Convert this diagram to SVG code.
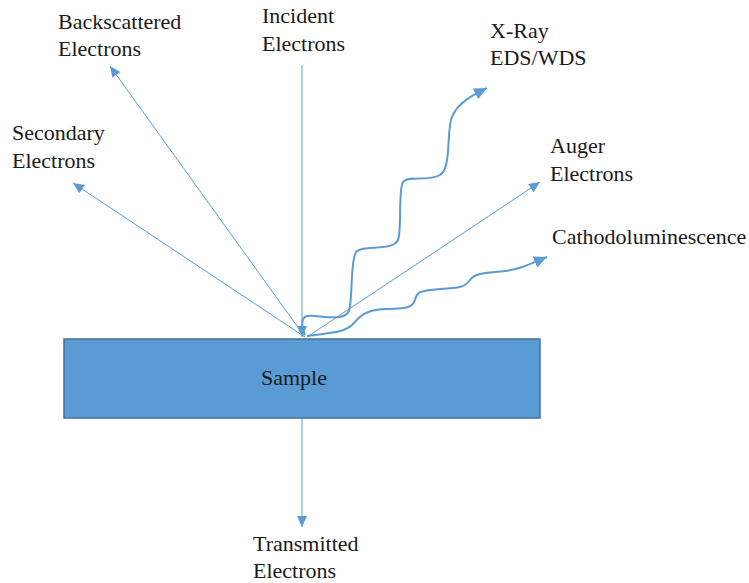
<svg xmlns="http://www.w3.org/2000/svg" width="749" height="583" viewBox="0 0 749 583">
<style>
.lbl{font-family:"Liberation Serif","DejaVu Serif",serif;font-size:22px;fill:#1a1a1a}
.thin{stroke:#5B9BD5;stroke-width:1;fill:none}
.wave{stroke:#5B9BD5;stroke-width:2;fill:none}
</style>
<defs>
<marker id="ah" markerUnits="userSpaceOnUse" markerWidth="12" markerHeight="10" refX="11" refY="5" orient="auto">
<path d="M0,0 L11,5 L0,10 Z" fill="#5B9BD5"/>
</marker>
<marker id="ahw" markerUnits="userSpaceOnUse" markerWidth="14" markerHeight="12" refX="13" refY="6" orient="auto">
<path d="M0,0 L13,6 L0,12 Z" fill="#5B9BD5"/>
</marker>
</defs>
<g id="sample">
<rect x="64" y="339" width="476" height="79" fill="#5B9BD5" stroke="#41719C" stroke-width="1.5"/>
<text class="lbl" x="261" y="385">Sample</text>
</g>
<g id="connectors">
<line class="thin" x1="302" y1="65" x2="302" y2="337" marker-end="url(#ah)"/>
<line class="thin" x1="305" y1="337" x2="110" y2="66" marker-end="url(#ah)"/>
<line class="thin" x1="305" y1="337" x2="73" y2="183" marker-end="url(#ah)"/>
<line class="thin" x1="307" y1="337" x2="540" y2="182" marker-end="url(#ah)"/>
<line class="thin" x1="302" y1="418" x2="302" y2="527" marker-end="url(#ah)"/>
<path class="wave" d="M305,335 C302,328 300,318 307,316 C316,314 344,323 349,311 C353,298 350,262 356,252 C362,244 392,252 398,240 C402,230 398,190 403,182 C408,175 428,182 440,175 C452,168 446,130 452,117 C458,102 475,94 487,88" marker-end="url(#ahw)"/>
<path class="wave" d="M307,336 C330,333 345,332 352,325 C360,316 365,310 385,309 C400,308 412,310 415,300 C417,292 418,291 440,289 C460,288 465,287 470,280 C476,272 490,273 505,271 C520,269 530,264 547,257" marker-end="url(#ahw)"/>
</g>
<g id="incident"><text class="lbl" x="262" y="23">Incident</text><text class="lbl" x="262" y="51">Electrons</text></g>
<g id="backscattered"><text class="lbl" x="58" y="29">Backscattered</text><text class="lbl" x="58" y="56">Electrons</text></g>
<g id="secondary"><text class="lbl" x="12" y="140">Secondary</text><text class="lbl" x="12" y="168">Electrons</text></g>
<g id="xray"><text class="lbl" x="490" y="38">X-Ray</text><text class="lbl" x="490" y="65">EDS/WDS</text></g>
<g id="auger"><text class="lbl" x="550" y="153">Auger</text><text class="lbl" x="550" y="181">Electrons</text></g>
<g id="cathodo"><text class="lbl" x="552" y="244">Cathodoluminescence</text></g>
<g id="transmitted"><text class="lbl" x="253" y="551">Transmitted</text><text class="lbl" x="253" y="578">Electrons</text></g>
</svg>
